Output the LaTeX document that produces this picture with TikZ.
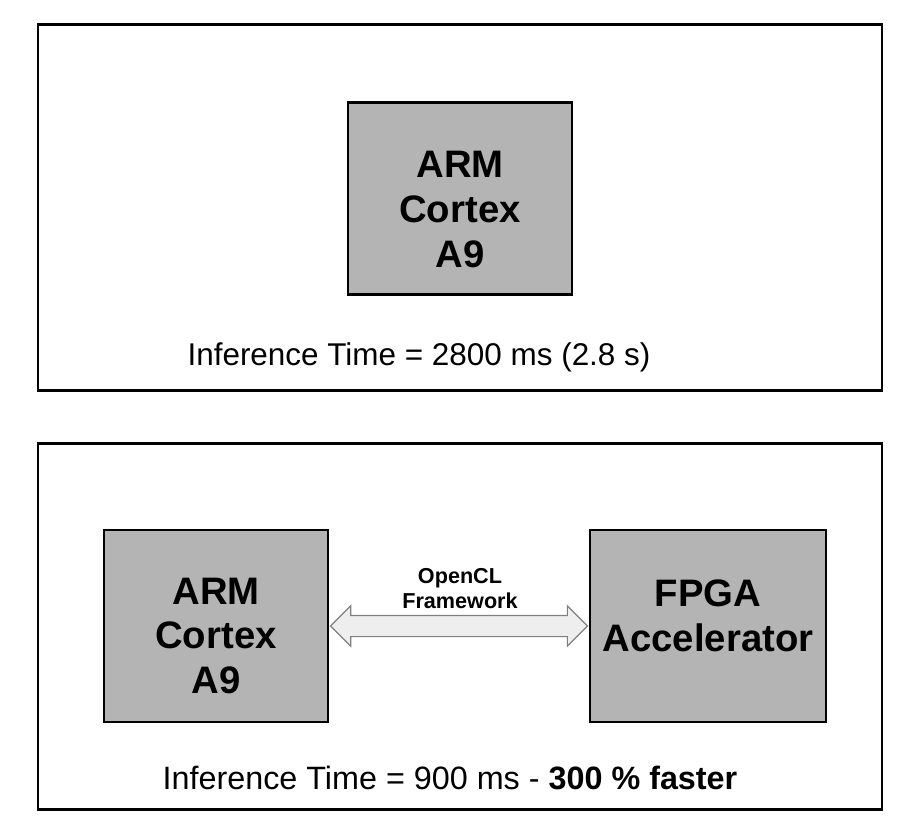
\documentclass[tikz,border=0pt]{standalone}
\usepackage{fontspec}
\setmainfont{Liberation Sans}
\usetikzlibrary{shapes.arrows,calc}
\definecolor{boxgray}{HTML}{B4B4B4}
\definecolor{arrowfill}{HTML}{EEEEEE}
\definecolor{arrowline}{HTML}{808080}
\begin{document}
\begin{tikzpicture}[x=0.02cm,y=-0.02cm,
  frame/.style={draw=black,line width=1.7pt},
  chip/.style={draw=black,line width=1.4pt,fill=boxgray},
  chiptext/.style={align=center,font=\fontsize{21.8}{25.5}\selectfont\bfseries},
  timing/.style={anchor=base,font=\fontsize{17.9}{21}\selectfont},
  link/.style={double arrow,draw=arrowline,fill=arrowfill,line width=0.7pt,
    inner xsep=0pt,inner ysep=0.2cm,double arrow head extend=0.19cm,
    minimum height=5.14cm}]

\useasboundingbox (0,0) rectangle (907,833);

% top one: ARM alone
\draw[frame] (38,24) rectangle (882,390);
\node[chip,minimum width=4.48cm,minimum height=3.84cm,
  label={[chiptext,yshift=-0.22cm]center:ARM\\Cortex\\A9}] (armA) at (460,198.5) {};
\node[timing] (timeA) at (419,365) {Inference Time = 2800 ms (2.8 s)};

% bottom one: ARM + FPGA
\draw[frame] (38,443) rectangle (882,809);
\node[chip,minimum width=4.48cm,minimum height=3.84cm,
  label={[chiptext,yshift=-0.2cm]center:ARM\\Cortex\\A9}] (armB) at (216,626) {};
\node[chip,minimum width=4.72cm,minimum height=3.84cm,
  label={[chiptext,yshift=0.2cm]center:FPGA\\Accelerator}] (fpga) at (708,626) {};
\node[link] (ocl) at ($(armB.east)!0.5!(fpga.west)$) {};
\node[font=\fontsize{12.3}{14.2}\selectfont\bfseries,align=center] (ocllabel) at (460,589) {OpenCL\\Framework};
\node[timing,font=\fontsize{18.4}{21}\selectfont] (timeB) at (450,789) {Inference Time = 900 ms - \textbf{300 \% faster}};

\end{tikzpicture}
\end{document}
